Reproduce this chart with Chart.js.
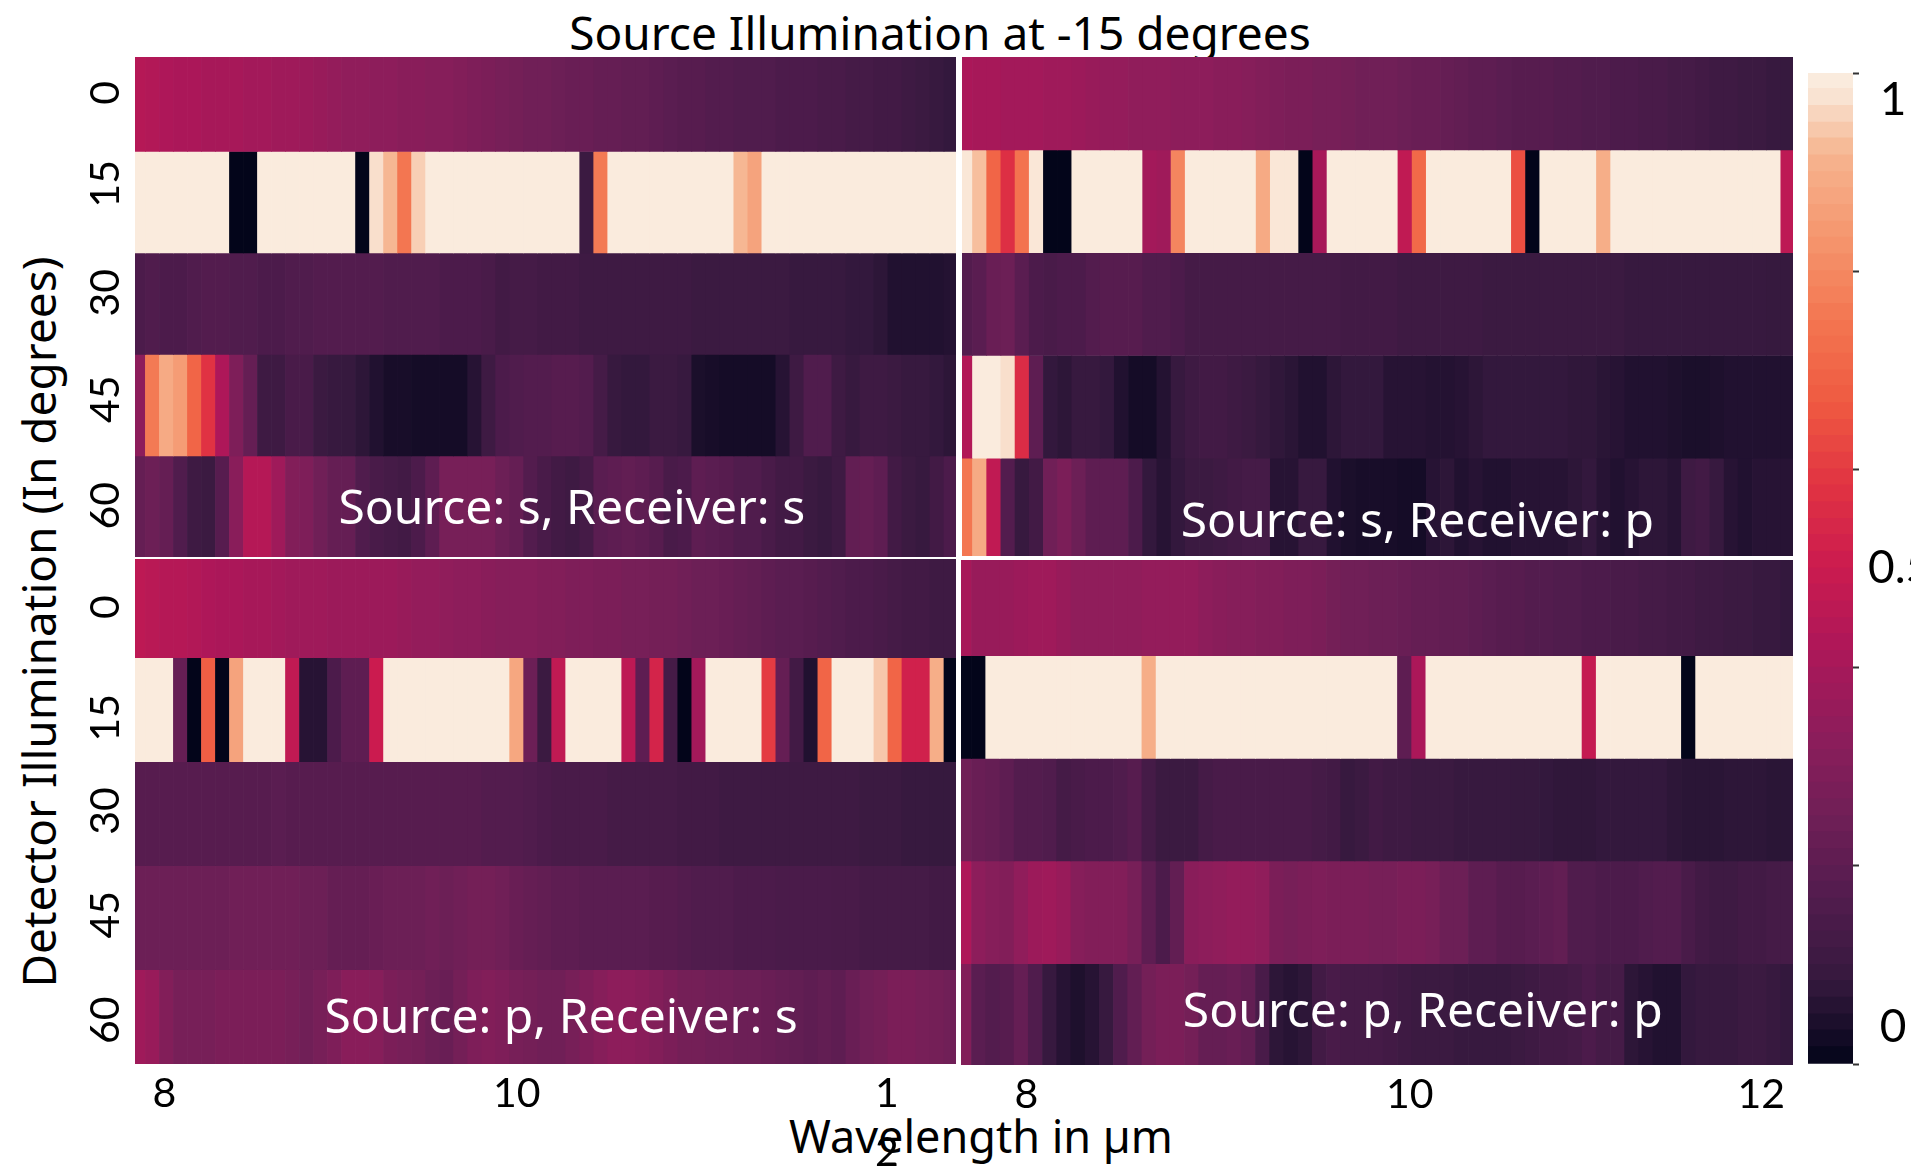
<!DOCTYPE html>
<html><head><meta charset="utf-8">
<script src="https://cdn.jsdelivr.net/npm/chart.js@4"></script>
<style>
html,body{margin:0;padding:0;background:#fff;width:1911px;height:1171px;overflow:hidden}
canvas{position:absolute;display:block}
.t{position:absolute;font-family:"Noto Sans",sans-serif;color:#000;white-space:nowrap;transform:translate(-50%,-50%)}
</style></head><body>
<div class="t" style="left:940px;top:32px;font-size:46px">Source Illumination at -15 degrees</div>
<div class="t" style="left:981px;top:1135px;font-size:45px">Wavelength in µm</div>
<div class="t" style="left:38px;top:622px;font-size:46px;transform:translate(-50%,-50%) rotate(-90deg)">Detector Illumination (In degrees)</div>
<canvas id="tl" width="896" height="500" style="left:60px;top:57px"></canvas>
<canvas id="tr" width="831" height="499" style="left:962px;top:57px"></canvas>
<canvas id="bl" width="896" height="612" style="left:60px;top:559px"></canvas>
<canvas id="br" width="832" height="611" style="left:961px;top:560px"></canvas>
<canvas id="cb" width="103" height="1030" style="left:1808px;top:50px"></canvas>
<script>
const wavelengths=[7.90,7.97,8.04,8.11,8.18,8.25,8.32,8.39,8.46,8.53,8.60,8.67,8.74,8.81,8.88,8.95,9.02,9.09,9.16,9.23,9.30,9.37,9.44,9.51,9.58,9.65,9.72,9.79,9.86,9.93,10.00,10.07,10.14,10.21,10.28,10.35,10.42,10.49,10.56,10.63,10.70,10.77,10.84,10.91,10.98,11.05,11.12,11.19,11.26,11.33,11.40,11.47,11.54,11.61,11.68,11.75,11.82,11.89,11.96];
const detectorAngles=[0,15,30,45,60];
const colorbarLevels=[0,.017,.033,.05,.067,.083,.1,.117,.133,.15,.167,.183,.2,.217,.233,.25,.267,.283,.3,.317,.333,.35,.367,.383,.4,.417,.433,.45,.467,.483,.5,.517,.533,.55,.567,.583,.6,.617,.633,.65,.667,.683,.7,.717,.733,.75,.767,.783,.8,.817,.833,.85,.867,.883,.9,.917,.933,.95,.967,.983];

const ss0=[.44,.43,.42,.41,.41,.40,.40,.40,.39,.39,.38,.38,.37,.36,.35,.34,.34,.33,.33,.32,.32,.31,.31,.30,.29,.28,.27,.26,.25,.25,.24,.23,.23,.22,.22,.21,.21,.20,.19,.18,.18,.17,.17,.16,.16,.16,.15,.15,.15,.14,.14,.13,.13,.12,.12,.11,.10,.09,.08];
const ss15=[.99,.99,.99,.99,.99,.99,.99,0,0,.99,.99,.99,.99,.99,.99,.99,0,.97,.92,.75,.95,.99,.99,.99,.99,.99,.99,.99,.99,.99,.99,.99,.10,.76,.99,.99,.99,.99,.99,.99,.99,.99,.99,.92,.87,.99,.99,.99,.99,.99,.99,.99,.99,.99,.99,.99,.99,.99,.99];
const ss30=[.15,.16,.15,.15,.16,.17,.17,.16,.16,.15,.15,.16,.16,.17,.17,.17,.17,.17,.16,.16,.16,.16,.15,.15,.15,.14,.12,.13,.13,.12,.12,.12,.11,.11,.11,.11,.11,.11,.11,.11,.10,.10,.10,.10,.10,.10,.10,.09,.09,.09,.09,.08,.08,.07,.05,.05,.05,.05,.055];
const ss45=[.33,.76,.89,.85,.70,.58,.42,.29,.22,.11,.11,.14,.14,.10,.09,.085,.07,.05,.035,.035,.03,.03,.03,.03,.06,.11,.15,.16,.17,.17,.18,.18,.17,.13,.09,.08,.08,.10,.10,.09,.04,.035,.03,.03,.03,.03,.06,.11,.16,.16,.11,.09,.11,.11,.10,.09,.09,.08,.07];
const ss60=[.22,.24,.22,.16,.11,.10,.18,.32,.44,.44,.38,.30,.29,.25,.22,.22,.16,.14,.13,.12,.15,.20,.27,.27,.27,.27,.24,.22,.17,.14,.12,.11,.13,.19,.20,.21,.20,.18,.14,.15,.20,.19,.18,.16,.16,.14,.12,.12,.10,.09,.11,.21,.22,.20,.12,.10,.09,.12,.15];

const sp0=[.41,.40,.40,.39,.39,.39,.38,.38,.37,.36,.35,.35,.34,.34,.34,.33,.33,.33,.32,.32,.31,.30,.29,.28,.28,.27,.27,.26,.25,.25,.25,.24,.23,.23,.22,.21,.20,.20,.19,.18,.18,.18,.17,.17,.16,.16,.15,.15,.14,.14,.13,.13,.12,.11,.11,.10,.10,.09,.085];
const sp15=[.98,.93,.70,.57,.74,.98,0,0,.99,.99,.99,.99,.99,.39,.38,.79,.99,.99,.99,.99,.99,.89,.98,.98,0,.40,.99,.99,.99,.99,.99,.47,.71,.99,.99,.99,.99,.99,.99,.64,0,.99,.99,.99,.99,.90,.99,.99,.99,.99,.99,.99,.99,.99,.99,.99,.99,.99,.46];
const sp30=[.17,.19,.23,.24,.19,.15,.14,.15,.15,.17,.18,.18,.18,.16,.16,.15,.13,.13,.13,.13,.13,.13,.13,.13,.13,.13,.13,.12,.12,.12,.12,.11,.11,.11,.11,.11,.11,.10,.10,.10,.10,.10,.10,.10,.10,.10,.10,.09,.09,.09,.09,.09,.09,.09,.09,.09,.09,.085,.085];
const sp45=[.43,.99,.99,.97,.56,.20,.08,.07,.09,.09,.08,.05,.03,.03,.055,.09,.11,.12,.12,.11,.10,.085,.075,.065,.05,.05,.07,.08,.08,.08,.06,.06,.06,.055,.055,.06,.07,.08,.08,.08,.08,.08,.08,.075,.075,.065,.06,.05,.05,.05,.045,.04,.04,.045,.05,.05,.05,.05,.05];
const sp60=[.75,.89,.47,.17,.09,.12,.25,.28,.24,.20,.20,.20,.15,.08,.06,.08,.10,.10,.11,.12,.13,.13,.06,.06,.09,.09,.05,.04,.035,.035,.035,.03,.03,.06,.07,.05,.06,.05,.05,.06,.06,.06,.06,.07,.08,.06,.05,.06,.07,.07,.06,.11,.12,.09,.06,.05,.06,.06,.06];

const ps0=[.46,.45,.44,.44,.43,.42,.41,.41,.40,.40,.39,.38,.38,.38,.37,.37,.37,.37,.37,.36,.35,.35,.34,.33,.33,.32,.31,.31,.31,.30,.30,.29,.29,.28,.28,.27,.27,.26,.26,.25,.24,.24,.23,.22,.21,.20,.19,.19,.18,.17,.16,.15,.15,.14,.13,.12,.12,.11,.11];
const ps15=[.99,.99,.99,.22,0,.68,0,.87,.99,.99,.99,.47,.06,.06,.15,.20,.20,.50,.99,.99,.99,.99,.99,.99,.99,.99,.99,.88,.24,.10,.47,.99,.99,.99,.99,.46,.20,.53,.13,0,.39,.99,.99,.99,.99,.60,.22,.12,.05,.70,.99,.99,.99,.94,.70,.52,.52,.90,0];
const ps30=[.18,.18,.18,.18,.18,.18,.18,.18,.18,.18,.19,.18,.18,.18,.18,.18,.18,.18,.18,.18,.18,.18,.18,.18,.18,.17,.17,.17,.16,.15,.14,.14,.14,.14,.13,.13,.13,.13,.13,.12,.12,.12,.11,.11,.11,.11,.11,.11,.11,.11,.11,.11,.10,.10,.10,.09,.09,.085,.085];
const ps45=[.24,.24,.24,.24,.24,.24,.24,.25,.25,.25,.25,.25,.24,.24,.22,.22,.22,.23,.24,.24,.24,.25,.24,.25,.26,.26,.25,.23,.22,.21,.20,.20,.19,.19,.19,.19,.19,.18,.18,.17,.16,.16,.16,.15,.15,.15,.145,.145,.145,.145,.14,.14,.13,.13,.13,.13,.13,.12,.12];
const ps60=[.38,.36,.30,.27,.27,.27,.28,.28,.28,.28,.28,.27,.25,.27,.29,.32,.32,.31,.28,.27,.26,.24,.23,.26,.29,.30,.29,.27,.26,.25,.25,.27,.29,.31,.33,.33,.32,.30,.28,.26,.26,.25,.25,.24,.24,.23,.22,.21,.20,.21,.20,.23,.25,.26,.28,.28,.27,.26,.25];

const pp0=[.40,.36,.36,.36,.37,.38,.38,.36,.34,.34,.34,.34,.34,.35,.35,.35,.35,.33,.32,.31,.31,.30,.30,.29,.29,.28,.26,.25,.25,.24,.24,.23,.22,.22,.21,.21,.20,.19,.18,.18,.17,.17,.16,.16,.15,.15,.14,.14,.13,.13,.12,.12,.11,.11,.10,.10,.09,.09,.08];
const pp15=[0,0,.99,.99,.99,.99,.99,.99,.99,.99,.99,.99,.99,.90,.99,.99,.99,.99,.99,.99,.99,.99,.99,.99,.99,.99,.99,.99,.99,.99,.99,.20,.41,.99,.99,.99,.99,.99,.99,.99,.99,.99,.99,.99,.48,.99,.99,.99,.99,.99,.99,0,.99,.99,.99,.99,.99,.99,.99];
const pp30=[.25,.23,.22,.20,.17,.17,.16,.13,.14,.15,.15,.16,.18,.13,.10,.10,.10,.13,.14,.14,.14,.14,.14,.14,.14,.13,.12,.09,.10,.12,.11,.11,.10,.10,.10,.09,.09,.09,.09,.085,.085,.08,.075,.075,.075,.08,.08,.08,.08,.08,.07,.065,.065,.065,.07,.07,.07,.065,.065];
const pp45=[.42,.33,.31,.30,.34,.37,.38,.36,.31,.30,.30,.30,.27,.20,.15,.21,.32,.33,.34,.35,.35,.34,.28,.27,.28,.29,.28,.28,.28,.27,.27,.28,.28,.27,.24,.24,.20,.20,.18,.18,.19,.20,.21,.16,.16,.15,.15,.15,.16,.17,.17,.14,.12,.11,.11,.12,.12,.13,.13];
const pp60=[.30,.19,.17,.18,.22,.16,.09,.06,.045,.06,.09,.16,.21,.26,.28,.28,.26,.22,.22,.23,.21,.14,.07,.06,.07,.12,.14,.13,.13,.13,.12,.11,.10,.10,.10,.09,.09,.09,.09,.10,.11,.12,.12,.13,.15,.13,.13,.07,.06,.05,.05,.08,.09,.09,.09,.10,.10,.09,.08];

const TICK_FONT='Lato, sans-serif', TEXT_FONT='"Noto Sans", sans-serif', FS=41;
const rocket=[[0,3,5,26],[.0833,53,25,62],[.1667,82,28,78],[.25,112,31,87],[.3333,142,29,91],[.4167,173,23,89],[.5,203,27,79],[.5833,225,51,66],[.6667,239,90,65],[.75,243,118,81],[.8333,245,150,110],[.9167,246,180,143],[.985,250,235,221],[1,250,235,221]];
function color(v){
  for(let i=1;i<rocket.length;i++){
    if(v<=rocket[i][0]){
      const a=rocket[i-1],b=rocket[i],f=(v-a[0])/(b[0]-a[0]);
      return 'rgb('+[1,2,3].map(c=>Math.round(a[c]+(b[c]-a[c])*f)).join(',')+')';
    }
  }
  return 'rgb(250,235,221)';
}
const noPad=s=>{s.paddingLeft=s.paddingRight=s.paddingTop=s.paddingBottom=0;};
const caption={id:'caption',afterDatasetsDraw(ch,a,o){
  const c=ch.ctx,r=ch.chartArea;
  c.save();c.fillStyle='#fff';c.font='48px '+TEXT_FONT;c.textAlign='center';c.textBaseline='middle';
  c.fillText(o.text,r.left+o.fx*(r.right-r.left),r.top+o.fy*(r.bottom-r.top));
  c.restore();
}};

function panel(id,rows,cfg){
  const datasets=rows.map((vals,r)=>({
    data:vals.map((v,i)=>({x:wavelengths[i],y:[r-.5,r+.506]})),
    backgroundColor:vals.map(color),
    borderWidth:0,grouped:false,barPercentage:1.05,categoryPercentage:1
  }));
  new Chart(document.getElementById(id),{
    type:'bar',
    data:{datasets},
    plugins:[caption],
    options:{
      responsive:false,animation:false,events:[],
      layout:{padding:0},
      plugins:{legend:{display:false},tooltip:{enabled:false},caption:cfg.caption},
      scales:{
        x:{type:'linear',offset:false,min:7.883,max:11.985,display:!!cfg.xTicks,
          grid:{display:false,drawTicks:false},border:{display:false},
          afterBuildTicks:s=>{if(cfg.xTicks)s.ticks=cfg.xTicks.map(t=>({value:t[0],label:t[1]}));},
          afterFit:s=>{s.height=cfg.xH||0;noPad(s);},
          ticks:{autoSkip:false,maxRotation:0,minRotation:0,padding:0,color:'#000',
            font:{family:TICK_FONT,size:FS,lineHeight:1.44},
            callback:function(v){const t=(cfg.xTicks||[]).find(k=>k[0]===v);return t?t[1]:'';}}
        },
        y:{type:'linear',reverse:true,min:cfg.yMin,max:cfg.yMax,display:!!cfg.yTicks,
          grid:{display:false,drawTicks:false},border:{display:false},
          afterBuildTicks:s=>{if(cfg.yTicks)s.ticks=cfg.yTicks.map(v=>({value:v}));},
          afterFit:s=>{s.width=cfg.yW||0;noPad(s);},
          ticks:{autoSkip:false,minRotation:90,maxRotation:90,crossAlign:'center',padding:5,color:'#000',
            font:{family:TICK_FONT,size:FS},
            callback:function(v){const i=(cfg.yTicks||[]).indexOf(v);return i>=0?String(detectorAngles[i]):'';}}
        }
      }
    }
  });
}

panel('tl',[ss0,ss15,ss30,ss45,ss60],{yMin:-.429,yMax:4.5,yW:75,yTicks:[-.075,.82,1.895,2.945,3.995],
  caption:{text:'Source: s, Receiver: s',fx:.532,fy:.906}});
panel('tr',[sp0,sp15,sp30,sp45,sp60],{yMin:-.403,yMax:4.455,
  caption:{text:'Source: s, Receiver: p',fx:.548,fy:.935}});
panel('bl',[ps0,ps15,ps30,ps45,ps60],{yMin:-.445,yMax:4.41,yW:75,yTicks:[.018,1.08,1.978,2.975,3.99],xH:107,
  xTicks:[[8.03,'8'],[9.79,'10'],[11.64,['1','2']]],
  caption:{text:'Source: p, Receiver: s',fx:.519,fy:.911}});
panel('br',[pp0,pp15,pp30,pp45,pp60],{yMin:-.43,yMax:4.49,xH:106,
  xTicks:[[8.205,'8'],[10.096,'10'],[11.829,'12']],
  caption:{text:'Source: p, Receiver: p',fx:.555,fy:.897}});

const cbTicks=[[0,''],[.0376,'\u00a00'],[.2,''],[.4,''],[.5,'0.5'],[.6,''],[.8,''],[.9725,'\u00a01'],[1,'']];
new Chart(document.getElementById('cb'),{
  type:'bar',
  data:{labels:[''],datasets:colorbarLevels.map(l=>({data:[[l,l+.0175]],backgroundColor:color(l+.008),borderWidth:0,grouped:false,barPercentage:1,categoryPercentage:1}))},
  options:{responsive:false,animation:false,events:[],
    layout:{padding:{top:23,bottom:16}},
    plugins:{legend:{display:false},tooltip:{enabled:false}},
    scales:{
      x:{display:false,offset:true,grid:{display:false}},
      y:{type:'linear',position:'right',min:0,max:1,
        grid:{drawOnChartArea:false,tickLength:6,tickWidth:2,
          tickColor:c=>{const t=cbTicks.find(k=>k[0]===c.tick.value);return t&&t[1]===''?'#333':'rgba(0,0,0,0)';}},
        border:{display:false},
        afterBuildTicks:s=>{s.ticks=cbTicks.map(t=>({value:t[0]}));},
        afterFit:s=>{s.width=58;noPad(s);},
        ticks:{autoSkip:false,crossAlign:'near',padding:9,color:'#000',font:{family:TICK_FONT,size:46},
          callback:v=>{const t=cbTicks.find(k=>k[0]===v);return t?t[1]:'';}}
      }
    }
  }
});
</script>
</body></html>
